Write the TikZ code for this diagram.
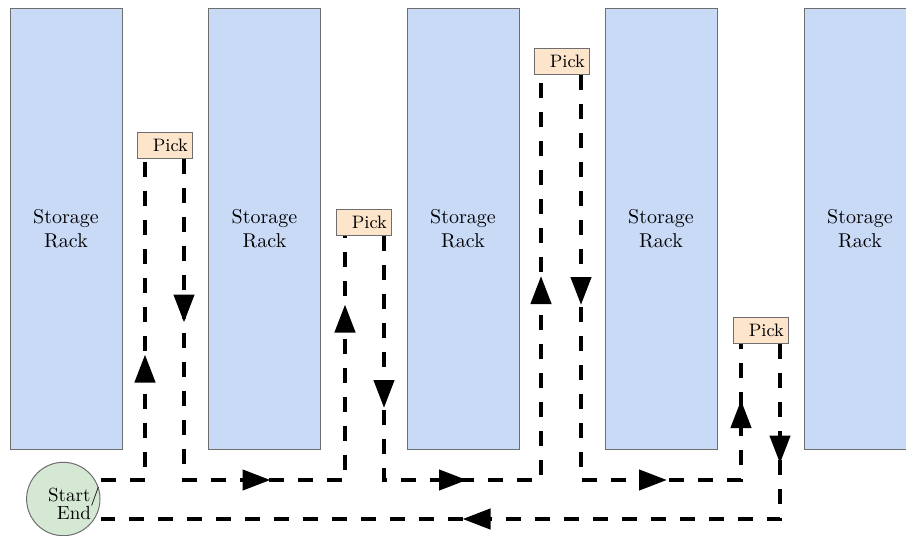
\documentclass[tikz,border=0pt]{standalone}
\usetikzlibrary{arrows.meta,decorations.markings}
\definecolor{rackfill}{RGB}{201,218,247}
\definecolor{pickfill}{RGB}{253,229,204}
\definecolor{homefill}{RGB}{213,232,212}
\definecolor{edgegray}{RGB}{110,110,110}
\tikzset{
  rack/.style={draw=edgegray, line width=0.5pt, fill=rackfill,
    minimum width=56pt, minimum height=220.5pt, inner sep=0pt, align=center},
  pickbox/.style={draw=edgegray, line width=0.5pt, fill=pickfill, font=\small,
    minimum height=13pt, text width=23.5pt, inner xsep=2pt, inner ysep=0pt, align=right},
  home/.style={circle, draw=edgegray, line width=0.5pt, fill=homefill,
    minimum size=36.7pt, inner sep=0pt},
  homelabel/.style={font=\fontsize{9.5}{9}\selectfont, align=center, inner sep=0pt},
  route/.style={line width=2.15pt, dash pattern=on 7.5pt off 7pt, line join=miter},
  marks/.style={postaction={decorate}, decoration={markings, #1}}
}
\newcommand{\bigtip}{\arrow{Triangle[length=14pt,width=10pt]}}
\begin{document}
\begin{tikzpicture}[x=0.5pt, y=-0.5pt]
  \useasboundingbox (0,0) rectangle (906,536);
  \clip (0,0) rectangle (906,536);

  % storage racks
  \node[rack] (rack1) at (66,228.5)    {Storage\\Rack};
  \node[rack] (rack2) at (264.5,228.5) {Storage\\Rack};
  \node[rack] (rack3) at (463,228.5)   {Storage\\Rack};
  \node[rack] (rack4) at (661,228.5)   {Storage\\Rack};
  \node[rack] (rack5) at (860,228.5)   {Storage\\Rack};

  % pick locations
  \node[pickbox] (pick1) at (164.5,145)   {Pick};
  \node[pickbox] (pick2) at (363.5,222.5) {Pick};
  \node[pickbox] (pick3) at (561.5,61.5)  {Pick};
  \node[pickbox] (pick4) at (760.5,330)   {Pick};

  % start / end point
  \node[home] (home) at (63.3,499) {};
  \node[homelabel] (homelabel) at (74,503) {Start/\\End};

  % aisle corners on the cross aisle
  \coordinate (w1) at (145,480);
  \coordinate (e1) at (184,480);
  \coordinate (w2) at (345,480);
  \coordinate (e2) at (384,480);
  \coordinate (w3) at (541,480);
  \coordinate (e3) at (581,480);
  \coordinate (w4) at (741,480);
  \coordinate (e4) at (780,519);

  % picking route
  \draw[route, marks={mark=at position 85pt with {\bigtip}}]
    (home.east |- w1) -- (w1) -- (pick1.south -| w1);
  \draw[route, marks={mark=at position 82pt with {\bigtip},
                      mark=at position 204pt with {\bigtip},
                      mark=at position 329pt with {\bigtip}}]
    (pick1.south -| e1) -- (e1) -- (w2) -- (pick2.south -| w2);
  \draw[route, marks={mark=at position 86pt with {\bigtip},
                      mark=at position 163.5pt with {\bigtip},
                      mark=at position 302.5pt with {\bigtip}}]
    (pick2.south -| e2) -- (e2) -- (w3) -- (pick3.south -| w3);
  \draw[route, marks={mark=at position 115pt with {\bigtip},
                      mark=at position 245.5pt with {\bigtip},
                      mark=at position 322.5pt with {\bigtip}}]
    (pick3.south -| e3) -- (e3) -- (w4) -- (pick4.south -| w4);
  \draw[route, marks={mark=at position 60pt with {\bigtip},
                      mark=at position 246.5pt with {\bigtip}}]
    (pick4.south -| e4) -- (e4) -- (home.east |- e4);
\end{tikzpicture}
\end{document}
